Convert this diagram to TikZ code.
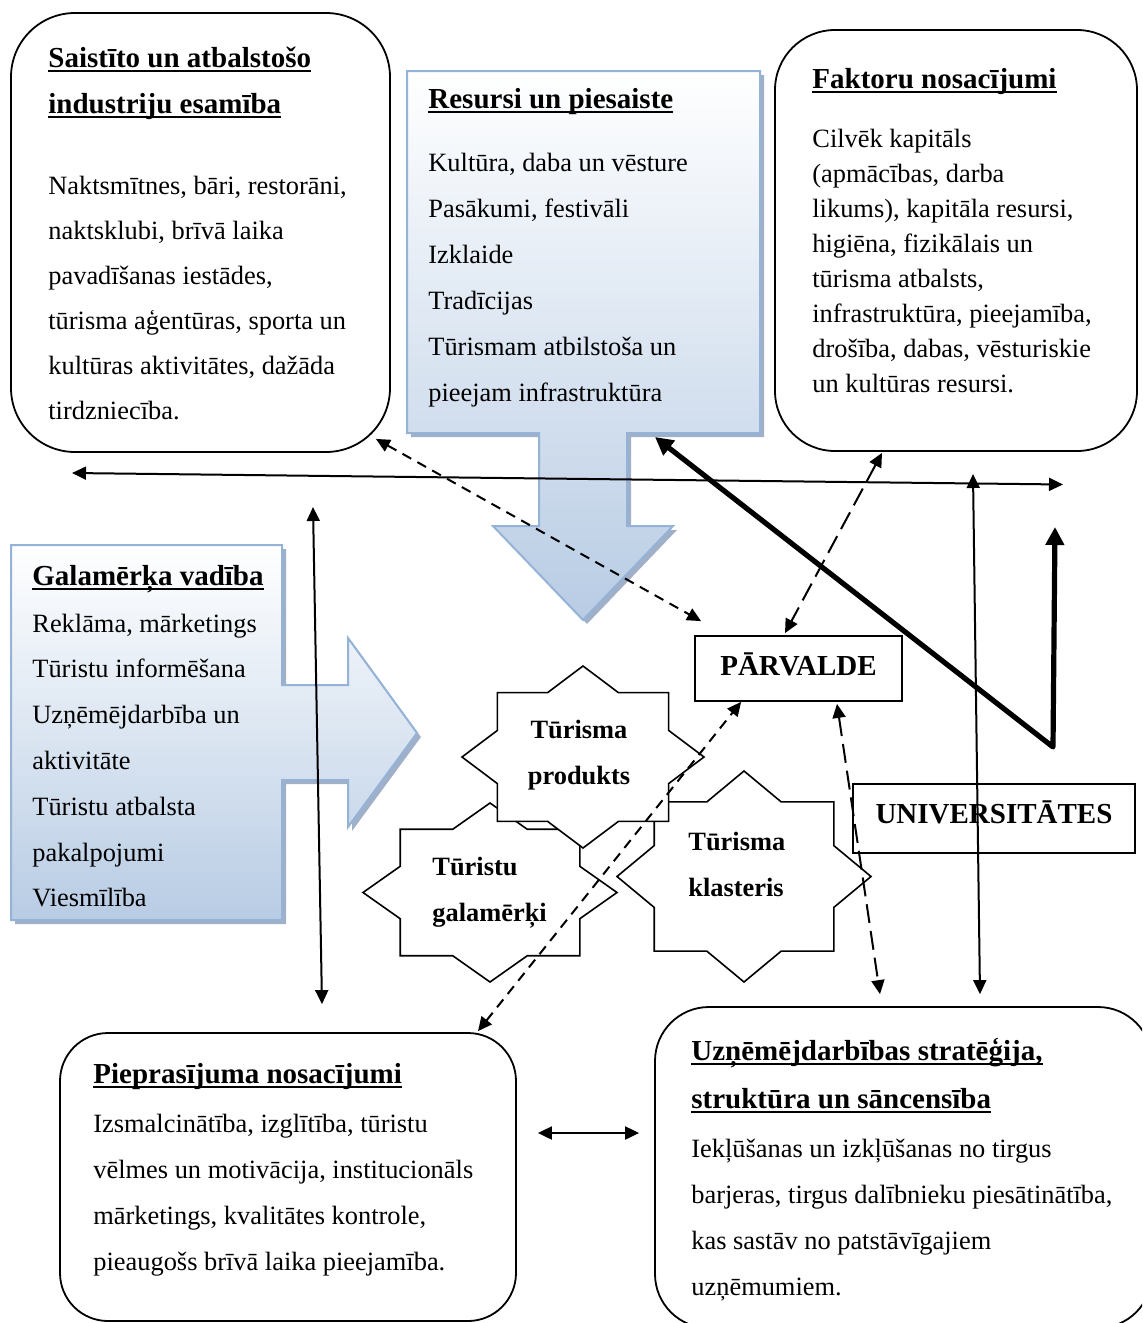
\documentclass[tikz,border=0pt]{standalone}
\usepackage{fontspec}
\setmainfont{Liberation Serif}
\usetikzlibrary{arrows.meta,calc}
\definecolor{cfill}{RGB}{184,204,228}
\definecolor{cedge}{RGB}{149,179,215}
\definecolor{cshadow}{RGB}{160,176,200}
\newcommand\myul[1]{\leavevmode\setbox0=\hbox{#1}\rlap{\rule[-2.4pt]{\wd0}{1pt}}\box0}
\newcommand\mybody[1]{\fontsize{13.2}{#1}\selectfont}
\newcommand\myhead[1]{\fontsize{14.5}{#1}\selectfont\bfseries}
\newcommand\mystarf{\fontsize{13.2}{23}\selectfont\bfseries}
\newcommand\mystar[4]{%
  \draw[starline] plot[samples at={0,1,...,15}]
    ({#1+#3*(1-0.2346*mod(\x,2))*cos(22.5*\x)},{#2+#4*(1-0.2346*mod(\x,2))*sin(22.5*\x)}) -- cycle;}
\begin{document}
\begin{tikzpicture}[x=0.5pt,y=-0.5pt,
  box/.style={draw, line width=0.9pt, fill=white, inner sep=0pt},
  txt/.style={anchor=base west, inner sep=0pt},
  conn/.style={line width=1pt, >={Triangle[length=7pt,width=6.5pt]}, <->},
  sdash/.style={conn, dash pattern=on 5pt off 3.5pt},
  ldash/.style={conn, dash pattern=on 9.5pt off 4pt},
  thickarr/.style={line width=2.6pt, >={Triangle[length=9pt,width=9pt]}, <->, line join=round},
  starline/.style={draw, line width=0.8pt, fill=white},
  callout/.style={draw=cedge, line width=1pt, top color=white, bottom color=cfill},
  shadow/.style={fill=cshadow, shift={(4,4)}}]
\useasboundingbox (0,0) rectangle (1142,1323);
\clip (0,0) rectangle (1142,1323);

% callout shapes
\fill[shadow] (407,71) -- (760,71) -- (760,433) -- (627,433) -- (627,526) -- (673,526) -- (583,620) -- (493,526) -- (539,526) -- (539,433) -- (407,433) -- cycle;
\path[callout] (407,71) -- (760,71) -- (760,433) -- (627,433) -- (627,526) -- (673,526) -- (583,620) -- (493,526) -- (539,526) -- (539,433) -- (407,433) -- cycle;
\fill[shadow] (11,545) -- (282,545) -- (282,685) -- (348,685) -- (348,638) -- (417,733) -- (348,827) -- (348,780) -- (282,780) -- (282,920) -- (11,920) -- cycle;
\path[callout] (11,545) -- (282,545) -- (282,685) -- (348,685) -- (348,638) -- (417,733) -- (348,827) -- (348,780) -- (282,780) -- (282,920) -- (11,920) -- cycle;

% boxes
\node[box, rounded corners=32pt, minimum width=189.5pt, minimum height=219.5pt] (sais) at (200.5,232.5) {};
\node[box, rounded corners=30pt, minimum width=181pt, minimum height=210.5pt] (fak) at (956,240.5) {};
\node[box, rounded corners=24pt, minimum width=228pt, minimum height=144pt] (piep) at (288,1177) {};
\node[box, rounded corners=27pt, minimum width=248.5pt, minimum height=160.5pt] (uzn) at (903.5,1167.5) {};
\node[box, minimum width=103.5pt, minimum height=32.5pt, text height=6.5pt, text depth=0pt,
  font=\fontsize{14.5}{17}\selectfont\bfseries] (parv) at (798.5,668.5) {PĀRVALDE};
\node[box, minimum width=141pt, minimum height=34.5pt, text height=5pt, text depth=0pt,
  font=\fontsize{14.5}{17}\selectfont\bfseries] (univ) at (994,818.5) {UNIVERSITĀTES};

% stars
\mystar{490}{892.5}{127}{89.5}
\mystar{744}{876.5}{127}{105.5}
\mystar{583}{757}{121}{91}

% texts
\node[txt] (saisT) at (48,67) {\parbox[t]{300pt}{\myhead{23pt}\myul{Saistīto un atbalstošo}\\\myul{industriju esamība}}};
\node[txt] (saisB) at (48,194) {\parbox[t]{300pt}{\mybody{22.5pt}Naktsmītnes, bāri, restorāni,\\naktsklubi, brīvā laika\\pavadīšanas iestādes,\\tūrisma aģentūras, sporta un\\kultūras aktivitātes, dažāda\\tirdzniecība.}};
\node[txt] (resT) at (428,108) {\myhead{23pt}\myul{Resursi un piesaiste}};
\node[txt] (resB) at (428,171) {\parbox[t]{300pt}{\mybody{23pt}Kultūra, daba un vēsture\\Pasākumi, festivāli\\Izklaide\\Tradīcijas\\Tūrismam atbilstoša un\\pieejam infrastruktūra}};
\node[txt] (fakT) at (812,88) {\myhead{23pt}\myul{Faktoru nosacījumi}};
\node[txt] (fakB) at (812,147) {\parbox[t]{300pt}{\mybody{17.5pt}Cilvēk kapitāls\\(apmācības, darba\\likums), kapitāla resursi,\\higiēna, fizikālais un\\tūrisma atbalsts,\\infrastruktūra, pieejamība,\\drošība, dabas, vēsturiskie\\un kultūras resursi.}};
\node[txt] (galT) at (32,585) {\myhead{23pt}\myul{Galamērķa vadība}};
\node[txt] (galB) at (32,632) {\parbox[t]{300pt}{\mybody{22.9pt}Reklāma, mārketings\\Tūristu informēšana\\Uzņēmējdarbība un\\aktivitāte\\Tūristu atbalsta\\pakalpojumi\\Viesmīlība}};
\node[txt] (pieT) at (93,1083) {\myhead{23pt}\myul{Pieprasījuma nosacījumi}};
\node[txt] (pieB) at (93,1132) {\parbox[t]{300pt}{\mybody{23pt}Izsmalcinātība, izglītība, tūristu\\vēlmes un motivācija, institucionāls\\mārketings, kvalitātes kontrole,\\pieaugošs brīvā laika pieejamība.}};
\node[txt] (uznT) at (691,1060) {\parbox[t]{300pt}{\myhead{24pt}\myul{Uzņēmējdarbības stratēģija,}\\\myul{struktūra un sāncensība}}};
\node[txt] (uznB) at (691,1157) {\parbox[t]{300pt}{\mybody{23pt}Iekļūšanas un izkļūšanas no tirgus\\barjeras, tirgus dalībnieku piesātinātība,\\kas sastāv no patstāvīgajiem\\uzņēmumiem.}};
\node[anchor=base, inner sep=0pt] (prodL) at (579,738) {\parbox[t]{80pt}{\centering\mystarf Tūrisma\\produkts}};
\node[txt] (galL) at (432,875) {\parbox[t]{80pt}{\mystarf Tūristu\\galamērķi}};
\node[txt] (klaL) at (688,850) {\parbox[t]{80pt}{\mystarf Tūrisma\\klasteris}};

% connector ends
\coordinate (aL) at (72,473);
\coordinate (aR) at (1063,484.5);
\coordinate (bT) at (313,507);
\coordinate (bB) at ($(piep.north)+(34,-28)$);
\coordinate (cT) at (973,474);
\coordinate (cB) at ($(uzn.north)+(76.5,-12)$);
\coordinate (dL) at ($(piep.east)+(21,-44)$);
\coordinate (dR) at ($(uzn.west)+(-15,-34.5)$);
\coordinate (eA) at ($(sais.south east)+(-15,-14)$);
\coordinate (eB) at ($(parv.north west)+(7,-14)$);
\coordinate (fA) at ($(piep.north)+(190,-1)$);
\coordinate (fB) at ($(parv.south west)+(47,0)$);
\coordinate (gA) at ($(fak.south)+(-74,1)$);
\coordinate (gB) at ($(parv.north)+(-13.5,-2)$);
\coordinate (hA) at ($(parv.south)+(38.5,2)$);
\coordinate (hB) at ($(uzn.north)+(-23.5,-12)$);
\coordinate (tA) at (655,437);
\coordinate (tV) at (1053,747);
\coordinate (tB) at (1055,527);

% connectors
\draw[conn] (aL) -- (aR);
\draw[conn] (bT) -- (bB);
\draw[conn] (cT) -- (cB);
\draw[conn] (dL) -- (dR);
\draw[sdash] (eA) -- (eB);
\draw[sdash] (fA) -- (fB);
\draw[ldash] (gA) -- (gB);
\draw[ldash] (hA) -- (hB);
\draw[thickarr] (tA) -- (tV) -- (tB);
\end{tikzpicture}
\end{document}
